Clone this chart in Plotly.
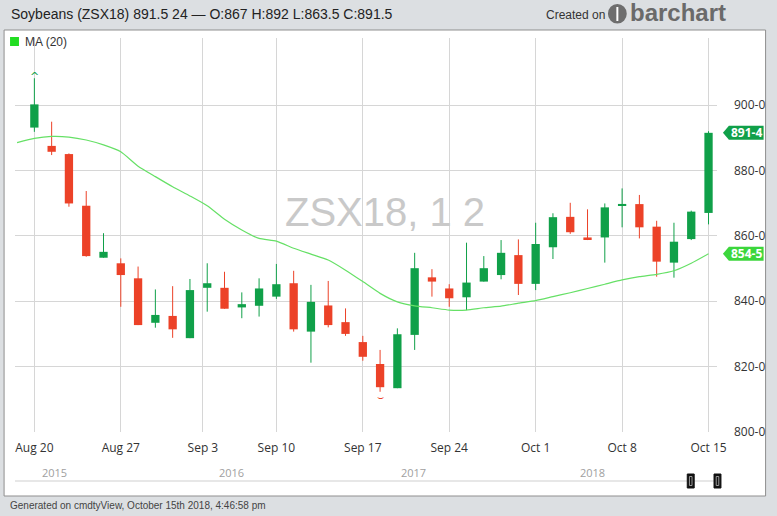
import plotly.graph_objects as go

# ---------------- data ----------------
tick_labels = ["Aug 20", "Aug 27", "Sep 3", "Sep 10", "Sep 17", "Sep 24", "Oct 1", "Oct 8", "Oct 15"]
tick_pos = [0, 5, 9.75, 14, 19, 24, 29, 34, 39]
year_labels = ["2015", "2016", "2017", "2018"]

opens = [893.1, 887.5, 885.0, 869.2, 853.3, 851.6, 847.0, 833.4, 835.5, 828.7,
         844.1, 844.1, 838.1, 838.6, 841.4, 845.5, 830.7, 838.7, 833.6, 827.5,
         820.8, 813.4, 829.7, 847.3, 843.9, 841.2, 846.0, 848.0, 854.1, 845.3,
         856.5, 865.8, 859.5, 859.5, 869.4, 869.7, 862.8, 851.8, 859.0, 867.0]
highs = [908.2, 894.9, 885.2, 873.7, 860.8, 853.1, 850.6, 843.6, 844.6, 846.8,
         851.6, 849.0, 842.7, 847.0, 851.4, 849.3, 845.0, 846.2, 837.8, 829.4,
         825.1, 831.7, 854.8, 849.8, 845.2, 857.9, 853.8, 858.7, 858.9, 864.0,
         866.9, 870.1, 868.1, 869.9, 874.5, 872.5, 864.6, 864.0, 867.7, 892.0]
lows = [891.8, 884.7, 868.9, 853.6, 853.3, 838.3, 832.7, 831.9, 828.8, 828.7,
        836.8, 837.7, 834.8, 835.3, 840.7, 830.7, 821.2, 832.0, 829.4, 821.8,
        812.3, 813.4, 825.1, 841.4, 838.3, 837.3, 846.0, 846.7, 841.9, 843.4,
        852.9, 860.6, 858.7, 851.8, 862.6, 859.2, 847.5, 847.2, 858.7, 863.5]
closes = [900.2, 885.7, 869.9, 853.8, 855.1, 848.0, 832.7, 835.8, 831.4, 843.4,
          845.5, 837.7, 839.1, 843.9, 845.2, 831.4, 839.8, 832.7, 830.0, 823.0,
          813.7, 829.9, 850.1, 846.0, 840.9, 845.7, 850.1, 854.8, 845.3, 857.5,
          865.7, 861.1, 858.9, 868.7, 869.6, 862.6, 852.1, 858.2, 867.4, 891.5]
ma_x = list(range(-1, 40))
ma20 = [888.5, 889.8, 890.4, 890.2, 889.3, 887.8, 885.7, 881.3, 878.1, 875.0,
        872.2, 869.2, 865.1, 861.8, 859.2, 858.4, 856.2, 854.4, 852.6, 849.5,
        846.0, 842.4, 839.8, 838.6, 838.0, 837.3, 837.3, 838.0, 838.5, 839.4,
        840.2, 841.4, 842.6, 843.9, 845.2, 846.5, 847.5, 848.2, 849.3, 851.6, 854.5]
y_ticks = [800, 820, 840, 860, 880, 900]

# ---------------- styling / layout helpers ----------------
W, H = 777, 516
PL, PR, PT, PB = 15, 723, 38, 432
YMIN, YMAX = 800, 920.5
GREEN = "#10a049"
RED = "#ec4228"
MA_COLOR = "#66e066"
BG = "#dcdfe2"

def px(x):
    return (x - PL) / (PR - PL)

def py(y):
    return (PB - y) / (PB - PT)

idx = list(range(len(opens)))
up = [c >= o for o, c in zip(opens, closes)]
colors = [GREEN if u else RED for u in up]
bases = [min(o, c) for o, c in zip(opens, closes)]
heights = [max(abs(c - o), 0.35) for o, c in zip(opens, closes)]

fig = go.Figure()

# wicks
for flag, col in [(True, GREEN), (False, RED)]:
    wx, wy = [], []
    for i in idx:
        if up[i] == flag:
            wx += [i, i, None]
            wy += [lows[i], highs[i], None]
    fig.add_trace(go.Scatter(x=wx, y=wy, mode="lines", line=dict(color=col, width=1),
                             hoverinfo="skip", showlegend=False))

# bodies
fig.add_trace(go.Bar(x=idx, y=heights, base=bases, width=0.48,
                     marker=dict(color=colors, line=dict(width=0)), showlegend=False))

# moving average
fig.add_trace(go.Scatter(x=ma_x, y=ma20, mode="lines",
                         line=dict(color=MA_COLOR, width=1.2, shape="spline", smoothing=0.5),
                         showlegend=False))

shapes = []
ann = []

# white panel
shapes.append(dict(type="rect", xref="paper", yref="paper", x0=px(4), x1=px(772), y0=py(30), y1=py(496),
                   fillcolor="white", line=dict(color="#8f8f8f", width=1), layer="below"))
# navigator line + handles
shapes.append(dict(type="line", xref="paper", yref="paper", x0=px(15), x1=px(723), y0=py(481), y1=py(481),
                   line=dict(color="#cfcfcf", width=1)))
for hx in (693, 720):
    shapes.append(dict(type="rect", xref="paper", yref="paper", x0=px(hx), x1=px(hx + 7), y0=py(474), y1=py(488),
                       fillcolor="#111111", line=dict(color="#111111", width=1)))
    shapes.append(dict(type="rect", xref="paper", yref="paper", x0=px(hx + 2.2), x1=px(hx + 4.8), y0=py(476.5), y1=py(485.5),
                       fillcolor="#111111", line=dict(color="#9a9a9a", width=1)))

# legend square
shapes.append(dict(type="rect", xref="paper", yref="paper", x0=px(10), x1=px(19), y0=py(46), y1=py(37),
                   fillcolor="#22dd22", line=dict(width=0)))
ann.append(dict(x=px(23), y=py(41.5), xref="paper", yref="paper", text="MA (20)", showarrow=False,
                xanchor="left", yanchor="middle", font=dict(size=12, color="#333", family="Liberation Sans, Arial")))

# price tags
def tag(value, col, label):
    ypix = PB - (value - YMIN) * (PB - PT) / (YMAX - YMIN)
    pts = [(729, ypix), (735, ypix - 7), (770, ypix - 7), (770, ypix + 7), (735, ypix + 7)]
    path = "M " + " L ".join(f"{px(a):.5f},{py(b):.5f}" for a, b in pts) + " Z"
    shapes.append(dict(type="path", xref="paper", yref="paper", path=path, fillcolor=col, line=dict(width=0)))
    ann.append(dict(x=px(752.5), y=py(ypix), xref="paper", yref="paper", text=f"<b>{label}</b>", showarrow=False,
                    xanchor="center", yanchor="middle", font=dict(size=12, color="white", family="Open Sans")))

tag(closes[-1], GREEN, "891-4")
tag(ma20[-1], "#3cd63c", "854-5")

# title
ann.append(dict(x=px(9), y=py(14), xref="paper", yref="paper",
                text="Soybeans (ZSX18) 891.5 24 — O:867 H:892 L:863.5 C:891.5", showarrow=False,
                xanchor="left", yanchor="middle", font=dict(size=14, color="#222", family="Liberation Sans, Arial")))
# created on barchart
ann.append(dict(x=px(549), y=py(15), xref="paper", yref="paper", text="Created on", showarrow=False,
                xanchor="left", yanchor="middle", font=dict(size=12, color="#333", family="Liberation Sans, Arial")))
shapes.append(dict(type="circle", xref="paper", yref="paper", x0=px(613), x1=px(632), y0=py(4), y1=py(23.5),
                   fillcolor="#6e6e6e", line=dict(width=0)))
shapes.append(dict(type="rect", xref="paper", yref="paper", x0=px(621.5), x1=px(623.5), y0=py(7), y1=py(21),
                   fillcolor="white", line=dict(width=0)))
ann.append(dict(x=px(633), y=py(13), xref="paper", yref="paper", text="<b>barchart</b>", showarrow=False,
                xanchor="left", yanchor="middle", font=dict(size=24, color="#6a6a6a", family="Liberation Sans, Arial")))

# watermark
ann.append(dict(x=px(388), y=py(212), xref="paper", yref="paper", text="ZSX18, 1 2", showarrow=False,
                xanchor="center", yanchor="middle", font=dict(size=40, color="#c9c9c9", family="Liberation Sans, Arial")))

# year labels
for lab, xc in zip(year_labels, [55, 233, 417, 597.5]):
    ann.append(dict(x=px(xc), y=py(473), xref="paper", yref="paper", text=lab, showarrow=False,
                    xanchor="center", yanchor="middle", font=dict(size=11, color="#a0a0a0", family="Open Sans")))

# high / low markers
ann.append(dict(x=0, y=max(highs), xref="x", yref="y", text="^", showarrow=False, yshift=2,
                font=dict(size=11, color=GREEN, family="DejaVu Sans")))
imin = lows.index(min(lows))
ann.append(dict(x=imin, y=min(lows), xref="x", yref="y", text="⌣", showarrow=False, yshift=-5,
                font=dict(size=11, color=RED, family="DejaVu Sans")))

# footer
ann.append(dict(x=px(8), y=py(505), xref="paper", yref="paper",
                text="Generated on cmdtyView, October 15th 2018, 4:46:58 pm", showarrow=False,
                xanchor="left", yanchor="middle", font=dict(size=10, color="#444", family="Liberation Sans, Arial")))

fig.update_layout(
    width=W, height=H,
    margin=dict(l=PL, r=W - PR, t=PT, b=H - PB),
    paper_bgcolor=BG,
    plot_bgcolor="rgba(0,0,0,0)",
    barmode="overlay",
    showlegend=False,
    shapes=shapes,
    annotations=ann,
    xaxis=dict(range=[-1.12, 39.49], tickvals=tick_pos, ticktext=tick_labels, showgrid=True,
               gridcolor="#d6d6d6", gridwidth=1, zeroline=False, showline=False, ticks="",
               tickfont=dict(size=12, color="#333", family="Open Sans"), ticklabelstandoff=7, fixedrange=True),
    yaxis=dict(range=[YMIN, YMAX], side="right", tickvals=y_ticks, ticktext=[f"{v}-0" for v in y_ticks],
               showgrid=True, gridcolor="#d6d6d6", gridwidth=1, zeroline=False, showline=False, ticks="",
               tickfont=dict(size=12, color="#333", family="Open Sans"), ticklabelstandoff=16, fixedrange=True),
)

fig.write_html("out.html", config={"displayModeBar": False},
               post_script="document.body.style.margin='0';document.body.style.background='" + BG + "';")
